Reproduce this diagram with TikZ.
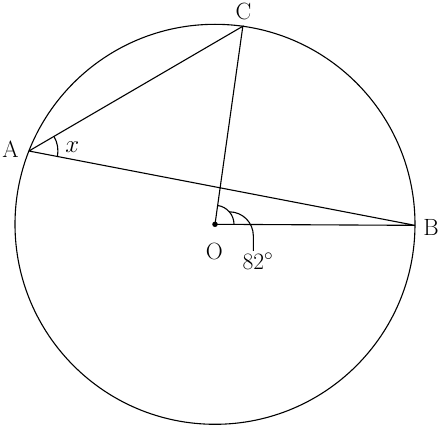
\documentclass[tikz,border=0pt]{standalone}
\usetikzlibrary{calc}
\begin{document}
\begin{tikzpicture}[x=1pt,y=1pt,line width=1.1pt,
  lbl/.style={inner sep=0pt,font=\fontsize{23.5}{28}\selectfont},
  pt/.style={circle,fill,inner sep=0pt,minimum size=5.5pt}]
\useasboundingbox (-215,-201.7) rectangle (225,224.3);
\coordinate (O) at (0,0);
\coordinate (A) at (158.5:200);
\coordinate (C) at (82:200);
\coordinate (B) at (-0.3:200);
\draw (O) circle[radius=200];
\draw (A) -- (C) -- (O) -- (B) -- (A);
\node[pt] (Od) at (O) {};
% angle at A
\draw ($(A)+(-11:29)$) arc[start angle=-11, end angle=30.2, radius=29];
% angle at O
\draw ($(O)+(0:19)$) arc[start angle=0, end angle=82, radius=19];
\coordinate (L0) at ($(O)+(41:19)$);
\draw (L0) arc[start angle=90, end angle=0, radius=24] -- ++(0,-15);
\node[lbl] (lA) at (-204.5,75) {A};
\node[lbl] (lC) at (28.5,213) {C};
\node[lbl] (lB) at (216,-3) {B};
\node[lbl] (lO) at (-0.7,-27.4) {O};
\node[lbl] (lx) at (-142.8,77.6) {$x$};
\node[lbl] (l82) at (43,-37.5) {82$^\circ$};
\end{tikzpicture}
\end{document}
